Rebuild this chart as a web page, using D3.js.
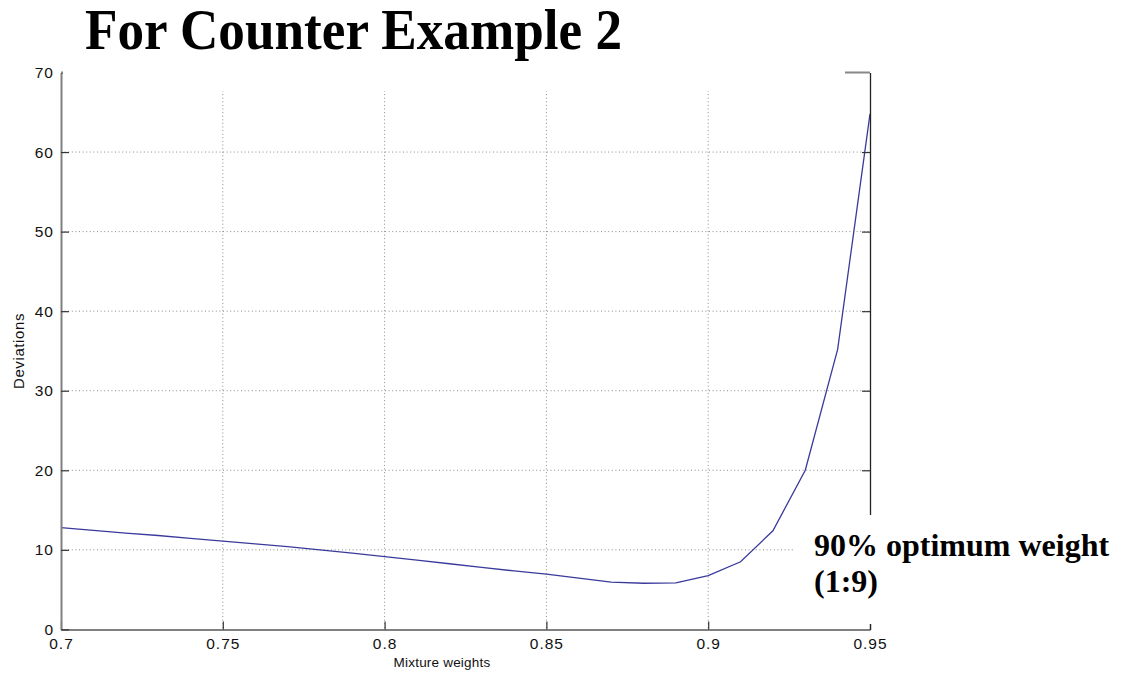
<!DOCTYPE html>
<html>
<head>
<meta charset="utf-8">
<script src="https://cdn.jsdelivr.net/npm/d3@7"></script>
<style>
  html, body { margin: 0; padding: 0; background: #fff; }
  svg { display: block; }
</style>
</head>
<body>
<svg id="chart" width="1124" height="673"></svg>
<script>
// Mixture weight vs. deviation
const weights = [0.70, 0.71, 0.72, 0.73, 0.74, 0.75, 0.76, 0.77, 0.78, 0.79,
                 0.80, 0.81, 0.82, 0.83, 0.84, 0.85, 0.86, 0.87, 0.88, 0.89,
                 0.90, 0.91, 0.92, 0.93, 0.94, 0.95];
const deviations = [12.8, 12.45, 12.1, 11.8, 11.45, 11.1, 10.75, 10.4, 10.0, 9.6,
                    9.15, 8.7, 8.25, 7.8, 7.35, 6.95, 6.45, 5.95, 5.8, 5.85,
                    6.75, 8.5, 12.4, 20.0, 35.2, 64.8];
const xTicks = [0.7, 0.75, 0.8, 0.85, 0.9, 0.95];
const xTickLabels = ["0.7", "0.75", "0.8", "0.85", "0.9", "0.95"];
const yTicks = [0, 10, 20, 30, 40, 50, 60, 70];

const titleText = "For Counter Example 2";
const noteLines = ["90% optimum weight", "(1:9)"];

const svg = d3.select("#chart");
const plot = { left: 61, right: 870, top: 72.5, bottom: 629.4 };

const x = d3.scaleLinear().domain([0.7, 0.95]).range([plot.left, plot.right]);
const y = d3.scaleLinear().domain([0, 70]).range([plot.bottom, plot.top]);

const tickFont = "'Liberation Sans', Arial, Helvetica, sans-serif";
const serif = "'Liberation Serif', 'Times New Roman', serif";

// dotted grid
const grid = svg.append("g");
grid.selectAll("line.vg").data(xTicks.slice(1, -1)).join("line")
  .attr("x1", d => x(d)).attr("x2", d => x(d))
  .attr("y1", plot.top).attr("y2", plot.bottom)
  .attr("stroke", "#8a8a8a").attr("stroke-width", 1)
  .attr("stroke-dasharray", "1,2.6");
grid.selectAll("line.hg").data(yTicks.slice(1, -1)).join("line")
  .attr("x1", plot.left).attr("x2", plot.right)
  .attr("y1", d => y(d)).attr("y2", d => y(d))
  .attr("stroke", "#8a8a8a").attr("stroke-width", 1)
  .attr("stroke-dasharray", "1,2.6");

// curve
const line = d3.line().x((d, i) => x(weights[i])).y(d => y(d));
svg.append("path")
  .datum(deviations)
  .attr("d", line)
  .attr("fill", "none")
  .attr("stroke", "#3a3a9c")
  .attr("stroke-width", 1.3);

// axes (inward ticks)
const bottomAxis = d3.axisBottom(x).tickValues(xTicks)
  .tickFormat((d, i) => xTickLabels[i]).tickSizeInner(-8).tickSizeOuter(0).tickPadding(9);
const gx = svg.append("g").attr("transform", `translate(0,${plot.bottom})`).call(bottomAxis);
gx.select(".domain").attr("stroke", "#808080").attr("stroke-width", 2);
gx.selectAll(".tick line").attr("stroke", "#333").attr("stroke-width", 1.2);
gx.selectAll(".tick text")
  .attr("font-family", tickFont).attr("font-size", 15.5).attr("letter-spacing", 1)
  .attr("fill", "#111");

const leftAxis = d3.axisLeft(y).tickValues(yTicks).tickSizeInner(-8).tickSizeOuter(0).tickPadding(7);
const gy = svg.append("g").attr("transform", `translate(${plot.left},0)`).call(leftAxis);
gy.select(".domain").attr("stroke", "#808080").attr("stroke-width", 2);
gy.selectAll(".tick line").attr("stroke", "#333").attr("stroke-width", 1.2);
gy.selectAll(".tick text")
  .attr("font-family", tickFont).attr("font-size", 15.5).attr("letter-spacing", 1)
  .attr("fill", "#111");

const rightAxis = d3.axisRight(y).tickValues(yTicks.slice(1, -1)).tickSizeInner(-8).tickSizeOuter(0).tickFormat("");
const gr = svg.append("g").attr("transform", `translate(${plot.right},0)`).call(rightAxis);
gr.select(".domain").attr("stroke", "#222").attr("stroke-width", 1.3);
gr.selectAll(".tick line").attr("stroke", "#333").attr("stroke-width", 1.2);

svg.append("line")
  .attr("x1", plot.left).attr("x2", plot.right)
  .attr("y1", plot.top).attr("y2", plot.top)
  .attr("stroke", "#888").attr("stroke-width", 2);

// axis titles
svg.append("text")
  .attr("x", 442).attr("y", 667)
  .attr("text-anchor", "middle")
  .attr("font-family", tickFont).attr("font-size", 13.5).attr("letter-spacing", 0.2)
  .attr("fill", "#111")
  .text("Mixture weights");

svg.append("text")
  .attr("transform", "translate(24,351) rotate(-90)")
  .attr("text-anchor", "middle")
  .attr("font-family", tickFont).attr("font-size", 15).attr("letter-spacing", 0.6)
  .attr("fill", "#111")
  .text("Deviations");

// title panel
svg.append("rect").attr("x", 63).attr("y", 0).attr("width", 782).attr("height", 91).attr("fill", "#fff");
svg.append("text")
  .attr("x", 85).attr("y", 49)
  .attr("font-family", serif).attr("font-weight", "bold").attr("font-size", 56)
  .attr("textLength", 537).attr("lengthAdjust", "spacingAndGlyphs")
  .attr("fill", "#000")
  .text(titleText);

// annotation panel
svg.append("rect").attr("x", 793).attr("y", 515).attr("width", 331).attr("height", 109).attr("fill", "#fff");
svg.append("g").selectAll("text").data(noteLines).join("text")
  .attr("x", 814).attr("y", (d, i) => 556 + i * 36)
  .attr("font-family", serif).attr("font-weight", "bold").attr("font-size", 32)
  .attr("fill", "#000")
  .text(d => d);
</script>
</body>
</html>
